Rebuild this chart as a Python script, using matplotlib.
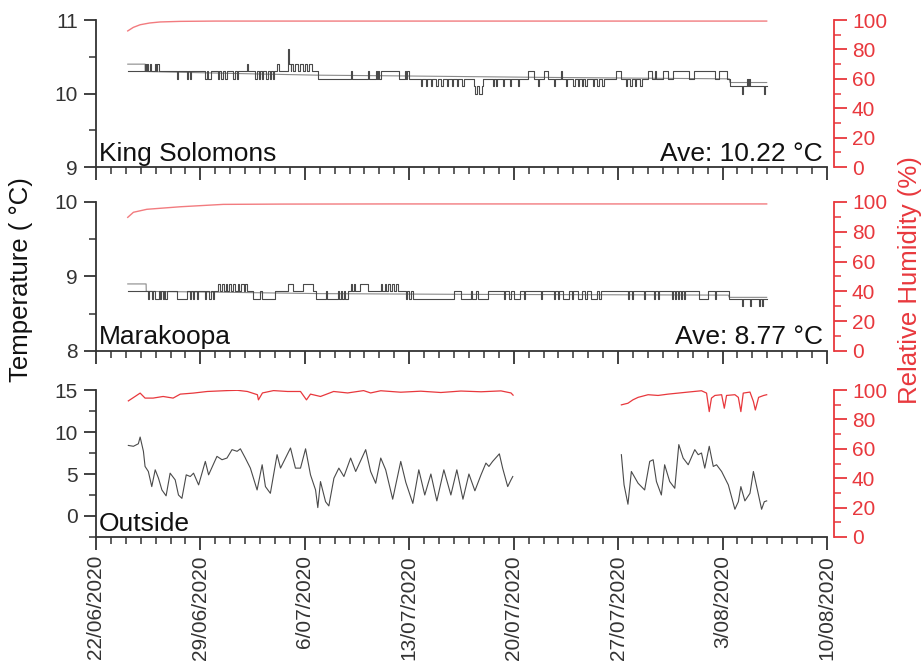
import numpy as np
import matplotlib.pyplot as plt
from matplotlib.ticker import MultipleLocator, FixedLocator

plt.rcParams['font.family'] = ['Liberation Sans', 'DejaVu Sans']

# === x axis: days since 22/06/2020 00:00
xtick_days = [0, 7, 14, 21, 28, 35, 42, 49]
xtick_labels = ["22/06/2020", "29/06/2020", "6/07/2020", "13/07/2020",
                "20/07/2020", "27/07/2020", "3/08/2020", "10/08/2020"]

# === King Solomons: logger temperature (0.1 °C steps, change points)
ks_step_t = [2.13, 3.29, 3.36, 3.45, 3.52, 3.62, 3.70, 3.97, 4.05, 4.12, 4.20,
             5.44, 5.52, 6.12, 6.20, 6.28, 6.36, 7.33, 7.45, 7.52, 7.68,
             8.20, 8.28, 8.40, 8.50, 8.62, 8.75, 9.20, 9.30, 9.42, 9.54,
             10.15, 10.22, 10.69, 10.78, 10.90, 11.00, 11.10, 11.18,
             11.42, 11.52, 11.65, 11.75, 11.85, 11.92, 12.16, 12.24,
             12.90, 12.96, 13.05, 13.10, 13.20, 13.35, 13.55, 13.70, 13.85,
             14.00, 14.15, 14.30, 14.50, 14.85, 17.07, 17.14, 18.21, 18.28,
             18.75, 18.82, 18.90, 18.97, 19.09, 20.30, 20.70, 20.78, 20.88, 20.97,
             21.77, 21.85, 22.10, 22.18, 22.45, 22.55, 22.80, 22.90, 23.15, 23.25,
             23.50, 23.60, 23.85, 23.95, 24.20, 24.30, 24.55, 24.68,
             25.34, 25.40, 25.55, 25.65, 25.85, 25.94,
             26.61, 26.68, 26.80, 26.90, 27.30, 27.38, 27.75, 27.85, 28.30, 28.38,
             28.97, 29.37, 29.64, 29.72, 30.04, 30.31, 30.71, 30.80, 31.18, 31.25,
             31.50, 31.58, 32.00, 32.08, 32.30, 32.38, 32.55, 32.65, 32.80, 32.90,
             33.30, 33.38, 33.60, 33.70, 33.90, 34.05, 34.88, 35.22,
             35.55, 35.62, 35.80, 35.90, 36.10, 36.20, 36.50, 36.58,
             37.03, 37.25, 37.45, 37.55, 38.04, 38.37, 38.71, 39.78,
             40.12, 41.47, 41.74, 42.27, 42.47, 43.28, 43.36,
             43.62, 43.70, 43.75, 43.82, 44.76, 44.83, 44.96]
ks_step_v = [10.3, 10.4, 10.3, 10.4, 10.3, 10.4, 10.3, 10.4, 10.3, 10.4, 10.3,
             10.2, 10.3, 10.2, 10.3, 10.2, 10.3, 10.2, 10.3, 10.2, 10.3,
             10.2, 10.3, 10.2, 10.3, 10.2, 10.3, 10.2, 10.3, 10.2, 10.3,
             10.4, 10.3, 10.2, 10.3, 10.2, 10.3, 10.2, 10.3,
             10.2, 10.3, 10.2, 10.3, 10.2, 10.3, 10.4, 10.3,
             10.6, 10.4, 10.3, 10.4, 10.3, 10.4, 10.3, 10.4, 10.3,
             10.4, 10.3, 10.4, 10.3, 10.2, 10.3, 10.2, 10.3, 10.2,
             10.3, 10.2, 10.3, 10.2, 10.3, 10.2, 10.3, 10.2, 10.3, 10.2,
             10.1, 10.2, 10.1, 10.2, 10.1, 10.2, 10.1, 10.2, 10.1, 10.2,
             10.1, 10.2, 10.1, 10.2, 10.1, 10.2, 10.1, 10.2,
             10.1, 10.0, 10.1, 10.0, 10.1, 10.2,
             10.1, 10.2, 10.1, 10.2, 10.1, 10.2, 10.1, 10.2, 10.1, 10.2,
             10.3, 10.2, 10.1, 10.2, 10.3, 10.2, 10.1, 10.2, 10.3, 10.2,
             10.1, 10.2, 10.1, 10.2, 10.1, 10.2, 10.1, 10.2, 10.1, 10.2,
             10.1, 10.2, 10.1, 10.2, 10.1, 10.2, 10.3, 10.2,
             10.1, 10.2, 10.1, 10.2, 10.1, 10.2, 10.1, 10.2,
             10.3, 10.2, 10.3, 10.2, 10.3, 10.2, 10.3, 10.2,
             10.3, 10.2, 10.3, 10.2, 10.1, 10.0, 10.1,
             10.2, 10.1, 10.2, 10.1, 10.0, 10.1, 10.1]
# second, finer trace
ks_fine_t = [2.13, 3.29, 3.30, 10.0, 14.85, 20.3, 30.0, 42.45, 42.50, 44.96]
ks_fine_v = [10.40, 10.40, 10.30, 10.27, 10.25, 10.24, 10.22, 10.20, 10.15, 10.15]
ks_rh_t = [2.13, 2.50, 2.96, 3.60, 4.30, 5.65, 8.0, 44.96]
ks_rh_v = [92.6, 95.0, 96.8, 98.0, 98.7, 99.1, 99.3, 99.3]

# === Marakoopa
mk_step_t = [2.13, 3.49, 3.56, 3.76, 3.85, 3.95, 4.20, 4.30, 4.38, 4.48, 4.56, 4.66, 4.75,
             5.44, 6.12, 6.32, 6.40, 6.52, 6.60, 6.75, 6.85,
             7.33, 7.40, 7.60, 7.68, 7.85, 7.93,
             8.20, 8.30, 8.45, 8.55, 8.70, 8.80, 8.95, 9.05, 9.20, 9.35,
             9.50, 9.60, 9.75, 9.90, 10.00, 10.15,
             10.55, 11.02, 11.16, 12.03, 12.90, 13.24, 13.91, 14.52,
             14.72, 15.40, 15.47, 16.20, 16.27, 16.40, 16.47, 16.60, 16.67, 16.87,
             17.07, 17.14, 17.30, 17.37, 17.70, 18.21,
             19.09, 19.20, 19.35, 19.45, 19.60, 19.70, 19.85, 19.95, 20.10, 20.25,
             20.77, 20.85, 21.00, 21.10, 21.25, 23.99, 24.46,
             25.13, 25.20, 25.50, 25.60, 26.28,
             27.35, 27.45, 27.70, 27.80, 28.00, 28.40, 28.70, 28.78, 29.84, 29.92,
             30.71, 30.80, 30.95, 31.05, 31.30, 31.70, 31.90, 32.00, 32.30, 32.60,
             32.80, 32.90, 33.20, 33.60, 33.75, 33.87,
             35.69, 35.76, 35.90, 35.97, 36.76, 36.83, 37.43, 37.50, 37.70, 37.77,
             38.58, 38.65, 38.80, 38.87, 39.00, 39.08, 39.20, 39.28, 39.40, 39.47,
             40.39, 41.06, 41.47, 41.54, 42.41, 43.28, 43.36, 43.82, 43.90,
             44.42, 44.50, 44.62, 44.72, 44.96]
mk_step_v = [8.8, 8.7, 8.8, 8.7, 8.8, 8.7, 8.8, 8.7, 8.8, 8.7, 8.8, 8.7, 8.8,
             8.7, 8.8, 8.7, 8.8, 8.7, 8.8, 8.7, 8.8,
             8.7, 8.8, 8.7, 8.8, 8.7, 8.8,
             8.9, 8.8, 8.9, 8.8, 8.9, 8.8, 8.9, 8.8, 8.9, 8.8,
             8.9, 8.8, 8.9, 8.8, 8.9, 8.8,
             8.7, 8.8, 8.7, 8.8, 8.9, 8.8, 8.9, 8.8,
             8.7, 8.8, 8.7, 8.8, 8.7, 8.8, 8.7, 8.8, 8.7, 8.8,
             8.9, 8.8, 8.9, 8.8, 8.9, 8.8,
             8.9, 8.8, 8.9, 8.8, 8.9, 8.8, 8.9, 8.8, 8.9, 8.8,
             8.7, 8.8, 8.7, 8.8, 8.7, 8.8, 8.7,
             8.8, 8.7, 8.8, 8.7, 8.8,
             8.7, 8.8, 8.7, 8.8, 8.7, 8.8, 8.7, 8.8, 8.7, 8.8,
             8.7, 8.8, 8.7, 8.8, 8.7, 8.8, 8.7, 8.8, 8.7, 8.8,
             8.7, 8.8, 8.7, 8.8, 8.7, 8.8,
             8.7, 8.8, 8.7, 8.8, 8.7, 8.8, 8.7, 8.8, 8.7, 8.8,
             8.7, 8.8, 8.7, 8.8, 8.7, 8.8, 8.7, 8.8, 8.7, 8.8,
             8.7, 8.8, 8.7, 8.8, 8.7, 8.6, 8.7, 8.6, 8.7,
             8.6, 8.7, 8.6, 8.7, 8.7]
mk_fine_t = [2.13, 3.36, 3.37, 8.0, 15.0, 25.0, 42.40, 42.45, 44.96]
mk_fine_v = [8.90, 8.90, 8.80, 8.79, 8.77, 8.76, 8.75, 8.72, 8.72]
mk_rh_t = [2.13, 2.51, 3.41, 5.65, 8.53, 12.4, 20.0, 44.96]
mk_rh_v = [89.7, 93.1, 95.1, 96.8, 98.4, 98.6, 98.7, 98.7]

# === Outside (gap 20/07 - 27/07 = nan)
out_t = [2.17, 2.51, 2.84, 2.96, 3.18, 3.29, 3.51, 3.74, 3.97, 4.19, 4.42, 4.70,
         4.97, 5.31, 5.53, 5.76, 6.05, 6.32, 6.54, 6.88, 7.33, 7.55, 8.11, 8.45,
         8.78, 9.12, 9.46, 9.68, 10.01, 10.35, 10.80, 11.14, 11.36, 11.69, 12.14,
         12.37, 13.04, 13.37, 13.71, 14.05, 14.38, 14.72, 14.87, 15.05, 15.39,
         15.61, 15.95, 16.28, 16.62, 17.07, 17.41, 18.08, 18.41, 18.75, 19.09,
         19.42, 19.89, 20.43, 20.77, 21.24, 21.64, 22.04, 22.45, 22.85, 23.32,
         23.79, 24.19, 24.60, 25.00, 25.40, 25.81, 26.14, 26.34, 26.59, 27.04,
         27.26, 27.60, 27.82, 27.94, 31.0,
         35.22, 35.40, 35.66, 35.89, 36.34, 36.78, 37.12, 37.35, 37.57, 37.90,
         38.12, 38.46, 38.80, 39.07, 39.36, 39.70, 40.14, 40.37, 40.59, 40.81,
         41.11, 41.38, 41.60, 41.94, 42.39, 42.83, 43.06, 43.23, 43.50, 43.84,
         44.07, 44.29, 44.62, 44.80, 44.96]
out_temp = [8.4, 8.3, 8.6, 9.4, 7.7, 5.9, 5.3, 3.5, 5.5, 4.5, 3.1, 2.4,
            5.1, 4.3, 2.5, 2.1, 4.9, 4.7, 5.1, 3.7, 6.5, 4.9, 7.1, 6.7,
            6.9, 7.9, 7.7, 8.0, 6.9, 5.7, 3.1, 6.1, 3.5, 2.7, 7.3,
            5.7, 8.1, 5.7, 5.7, 8.0, 4.9, 3.1, 1.0, 4.1, 1.7,
            1.2, 4.5, 5.7, 4.7, 6.9, 5.3, 7.9, 5.3, 3.9, 6.9,
            5.5, 2.0, 6.5, 4.0, 1.5, 5.5, 2.5, 5.0, 1.8, 5.5,
            2.5, 5.5, 2.0, 5.0, 3.0, 4.9, 6.3, 5.9, 6.5, 7.4,
            5.7, 3.5, 4.3, 4.7, np.nan,
            7.3, 3.7, 1.4, 5.3, 3.9, 3.1, 6.5, 6.7, 4.1, 2.5,
            6.1, 4.1, 3.3, 8.5, 6.9, 6.1, 7.9, 7.3, 7.5, 5.7,
            8.3, 5.9, 6.1, 5.3, 3.7, 0.8, 1.7, 3.5, 1.8, 2.7,
            5.3, 3.5, 0.8, 1.7, 1.8]
out_rh_t = [2.17, 2.62, 2.96, 3.29, 3.83, 4.50, 5.17, 5.65, 6.52, 7.46, 8.80,
            9.48, 10.15, 10.82, 10.89, 11.16, 11.90, 12.84, 13.71, 14.11, 14.38,
            15.05, 15.93, 16.87, 17.94, 18.41, 19.09, 20.43, 21.77, 23.12, 24.46,
            25.81, 27.15, 27.82, 27.96, 31.0,
            35.22, 35.66, 35.99, 36.34, 37.01, 37.68, 38.35, 39.03, 39.70, 40.59,
            40.93, 41.11, 41.26, 41.49, 41.94, 42.12, 42.27, 42.83, 43.06, 43.23,
            43.39, 43.84, 44.07, 44.20, 44.42, 44.76, 44.96]
out_rh = [92.6, 95.6, 97.9, 94.5, 94.5, 95.6, 94.5, 97.2, 97.9, 99.0, 99.6,
          99.8, 99.0, 96.8, 93.3, 98.0, 99.6, 99.0, 99.0, 93.3, 97.2,
          95.6, 99.0, 98.0, 99.6, 98.0, 99.5, 98.5, 99.2, 98.3, 99.3,
          98.8, 99.4, 98.0, 96.5, np.nan,
          89.9, 91.0, 93.3, 95.0, 96.8, 96.3, 97.2, 97.9, 98.6, 99.5,
          97.9, 85.3, 94.5, 96.3, 96.8, 87.6, 96.3, 96.8, 95.0, 85.3,
          97.9, 98.6, 92.2, 86.4, 95.0, 96.3, 96.8]

temp_color = '#4a4a4a'
fine_color = '#8a8a8a'
red = '#e8383d'
cave_rh_color = '#f27b7f'

# === Figure layout (left, bottom, width, height)
fig = plt.figure(figsize=(9.22, 6.66), dpi=100)
rects = [[0.1041, 0.7492, 0.7928, 0.2207],
         [0.1041, 0.4730, 0.7928, 0.2237],
         [0.1041, 0.1937, 0.7928, 0.2207]]

panels = [
    dict(name="King Solomons", ave="Ave: 10.22 \u00b0C", ylim=(9, 11), major=1, minor=0.5,
         step=(ks_step_t, ks_step_v), fine=(ks_fine_t, ks_fine_v), rh=(ks_rh_t, ks_rh_v)),
    dict(name="Marakoopa", ave="Ave: 8.77 \u00b0C", ylim=(8, 10), major=1, minor=0.5,
         step=(mk_step_t, mk_step_v), fine=(mk_fine_t, mk_fine_v), rh=(mk_rh_t, mk_rh_v)),
    dict(name="Outside", ave=None, ylim=(-2.5, 15), major=5, minor=2.5,
         step=None, fine=None, rh=(out_rh_t, out_rh)),
]

for i, (rect, p) in enumerate(zip(rects, panels)):
    ax = fig.add_axes(rect)
    ax2 = ax.twinx()

    if p["fine"] is not None:
        ax.plot(p["fine"][0], p["fine"][1], color=fine_color, lw=0.8)
        ax.plot(p["step"][0], p["step"][1], color=temp_color, lw=0.8,
                drawstyle='steps-post')
        ax2.plot(p["rh"][0], p["rh"][1], color=cave_rh_color, lw=1.0)
    else:
        ax.plot(out_t, out_temp, color=temp_color, lw=0.8)
        ax2.plot(p["rh"][0], p["rh"][1], color=red, lw=0.9)

    ax.set_xlim(0, 49)
    ax.set_ylim(*p["ylim"])
    ax.yaxis.set_major_locator(MultipleLocator(p["major"]))
    ax.yaxis.set_minor_locator(MultipleLocator(p["minor"]))
    ax.xaxis.set_major_locator(FixedLocator(xtick_days))
    ax.xaxis.set_minor_locator(MultipleLocator(1))

    ax2.set_ylim(0, 100)
    ax2.yaxis.set_major_locator(MultipleLocator(20))
    ax2.yaxis.set_minor_locator(MultipleLocator(10))

    for s in ["top", "right"]:
        ax.spines[s].set_visible(False)
    for s in ["top", "left", "bottom"]:
        ax2.spines[s].set_visible(False)
    for s in ["left", "bottom"]:
        ax.spines[s].set_linewidth(1.3)
        ax.spines[s].set_color('#333333')
    ax2.spines["right"].set_linewidth(1.3)
    ax2.spines["right"].set_color(red)
    ax2.spines["right"].set_position(('outward', 5))

    ax.tick_params(axis='both', which='major', direction='out', length=9, width=1.3,
                   color='#333333', labelsize=15, labelcolor='#333333')
    ax.tick_params(axis='both', which='minor', direction='out', length=5, width=1.1,
                   color='#333333')
    ax.tick_params(axis='y', pad=4)
    ax2.tick_params(axis='y', which='major', direction='out', length=9, width=1.3,
                    color=red, labelsize=15, labelcolor=red, pad=4)
    ax2.tick_params(axis='y', which='minor', direction='out', length=5, width=1.1,
                    color=red)

    if i < 2:
        ax.tick_params(axis='x', labelbottom=False)
    else:
        ax.set_xticklabels(xtick_labels, rotation=90)
        ax.tick_params(axis='x', pad=4)

    ax.text(0.004, 0.01, p["name"], transform=ax.transAxes, fontsize=19,
            ha='left', va='bottom', color='#111111')
    if p["ave"]:
        ax.text(0.994, 0.01, p["ave"], transform=ax.transAxes, fontsize=19,
                ha='right', va='bottom', color='#111111')

fig.text(21 / 922, 0.58, "Temperature ( \u00b0C)", rotation=90, ha='center',
         va='center', fontsize=18.5, color='#111111')
fig.text(910 / 922, 0.58, "Relative Humidity (%)", rotation=90, ha='center',
         va='center', fontsize=18.5, color=red)

fig.savefig("out.png", dpi=100)
